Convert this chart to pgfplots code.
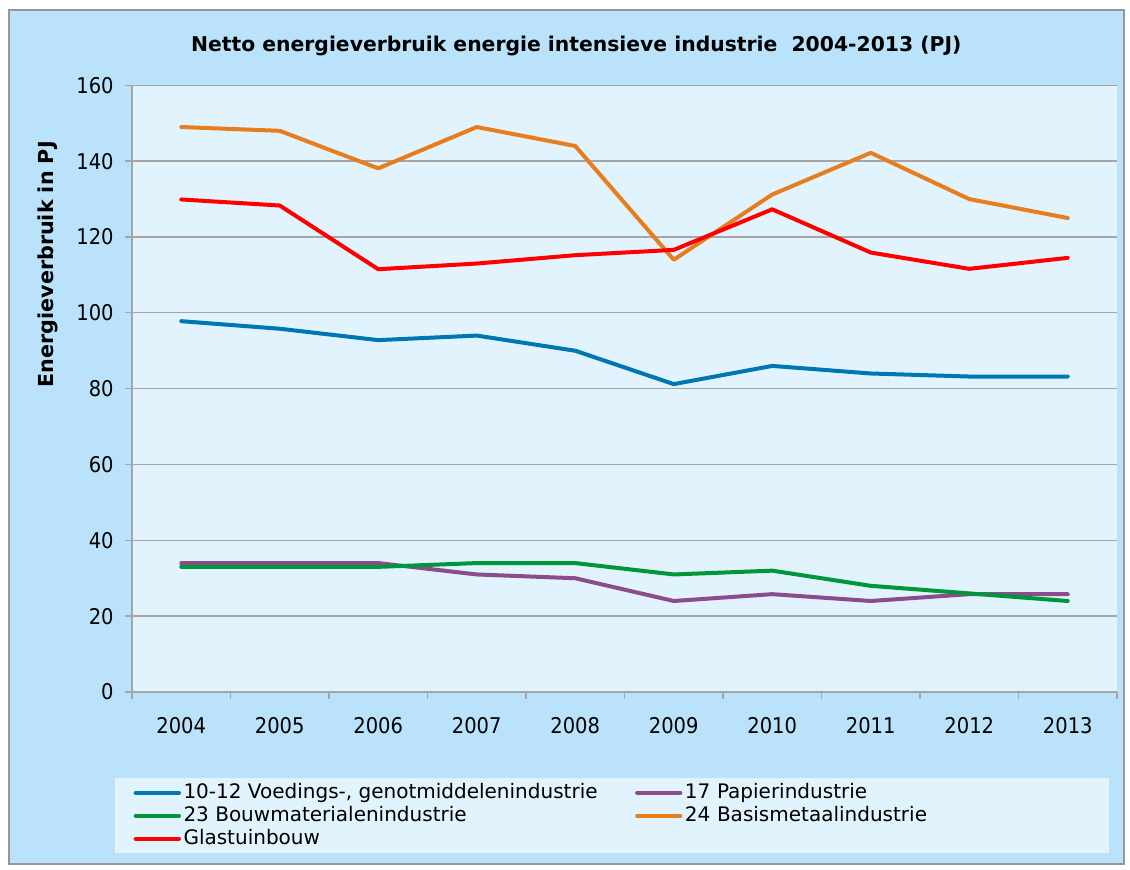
\documentclass[border=0pt]{standalone}
\usepackage{pgfplots}
\pgfplotsset{compat=1.18}
\usepackage{fontspec}
\setmainfont{DejaVu Sans}
\newfontfamily\cond{DejaVu Sans Condensed}
\definecolor{outerbg}{RGB}{186,227,251}
\definecolor{plotbg}{RGB}{225,243,253}
\definecolor{framegray}{RGB}{150,150,150}
\definecolor{gridgray}{RGB}{165,165,165}
\definecolor{cblue}{RGB}{0,119,176}
\definecolor{cpurple}{RGB}{139,76,140}
\definecolor{cgreen}{RGB}{0,150,58}
\definecolor{corange}{RGB}{232,125,30}
\definecolor{cred}{RGB}{255,0,0}
\begin{document}
\begin{tikzpicture}
\fill[white] (0pt,0pt) rectangle (678pt,522pt);
\filldraw[fill=outerbg,draw=framegray,line width=0.8pt] (5.4pt,3.6pt) rectangle (674.4pt,516pt);
\begin{axis}[
  at={(79.2pt,106.8pt)}, anchor=south west,
  scale only axis, width=591pt, height=364pt,
  axis background/.style={fill=plotbg},
  xmin=-0.5, xmax=9.5, ymin=0, ymax=160,
  ytick={0,20,...,160},
  xtick={0,...,9},
  xticklabels={2004,2005,2006,2007,2008,2009,2010,2011,2012,2013},
  minor xtick={-0.5,0.5,...,9.5},
  major x tick style={draw=none},
  tick align=outside,
  major tick length=4.5pt, minor tick length=4.5pt,
  tick style={gridgray, line width=0.8pt},
  axis lines*=left,
  axis line style={-, gridgray, line width=0.8pt},
  ymajorgrids, grid style={gridgray, line width=0.8pt},
  /pgf/number format/assume math mode=true,
  ticklabel style={font=\cond\fontsize{13}{15}\selectfont, black},
  xticklabel style={yshift=-7pt},
  yticklabel style={xshift=-3pt},
  title={Netto energieverbruik energie intensieve industrie\ \ 2004-2013 (PJ)},
  title style={font=\bfseries\fontsize{12.2}{14}\selectfont, at={(axis description cs:0.451,1.049)}, anchor=center, yshift=0pt},
  ylabel={Energieverbruik in PJ},
  ylabel style={font=\bfseries\fontsize{12.4}{14}\selectfont, at={(axis description cs:-0.0853,0.705)}, anchor=center},
  legend columns=2,
  legend cell align=left,
  legend style={at={(axis description cs:-0.01726,-0.1417)}, anchor=north west,
    fill=plotbg, draw=none, font=\fontsize{12}{14}\selectfont,
    inner xsep=11pt, inner ysep=2pt, row sep=0.3pt,
    nodes={inner xsep=1.5pt, inner ysep=1pt, text height=9pt, text depth=2.5pt},
    /tikz/column 2/.append style={column sep=21pt},
    /tikz/column 4/.append style={text width=242pt}},
  legend image code/.code={\draw[#1, line width=2.4pt, line cap=round] (0pt,0pt) -- (26pt,0pt);},
  every axis plot/.append style={line width=2.4pt, line join=round, line cap=round},
]
\addplot[cblue] coordinates {(0,97.8) (1,95.8) (2,92.8) (3,94) (4,90) (5,81.2) (6,86) (7,84) (8,83.2) (9,83.2)};
\addlegendentry{10-12 Voedings-, genotmiddelenindustrie}
\addplot[cpurple] coordinates {(0,34) (1,34) (2,34) (3,31) (4,30) (5,24) (6,25.8) (7,24) (8,25.8) (9,25.8)};
\addlegendentry{17 Papierindustrie}
\addplot[cgreen] coordinates {(0,33) (1,33) (2,33) (3,34) (4,34) (5,31) (6,32) (7,28) (8,26) (9,24)};
\addlegendentry{23 Bouwmaterialenindustrie}
\addplot[corange] coordinates {(0,149) (1,148) (2,138.1) (3,149) (4,144) (5,114) (6,131.2) (7,142.2) (8,130) (9,125)};
\addlegendentry{24 Basismetaalindustrie}
\addplot[cred] coordinates {(0,129.9) (1,128.3) (2,111.5) (3,113) (4,115.2) (5,116.6) (6,127.3) (7,115.9) (8,111.6) (9,114.5)};
\addlegendentry{Glastuinbouw}
\end{axis}
\end{tikzpicture}
\end{document}
